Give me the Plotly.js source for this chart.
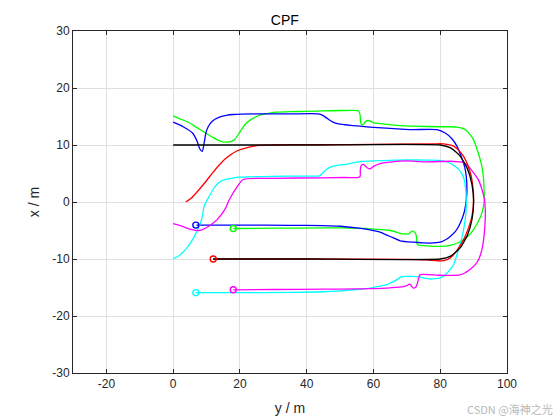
<!DOCTYPE html>
<html>
<head>
<meta charset="utf-8">
<script src="https://cdn.plot.ly/plotly-3.0.1.min.js"></script>
<style>html,body{margin:0;padding:0;background:#fff;}#chart{width:560px;height:420px;}</style>
</head>
<body>
<div id="chart"></div>
<script>
// ---- data ----
const xTickVals = [-20, 0, 20, 40, 60, 80, 100];
const xTickText = ['-20', '0', '20', '40', '60', '80', '100'];
const yTickVals = [-30, -20, -10, 0, 10, 20, 30];
const yTickText = ['-30', '-20', '-10', '0', '10', '20', '30'];

const greenX = [18, 30, 45, 50, 59, 65, 69, 70.6, 71.6, 72.6, 72.9, 73.1, 73.6, 76, 79, 83, 85.5, 87, 89, 90, 91.5, 92.5, 93.2, 93.1, 93, 92.6, 92, 91, 90, 88.7, 87.5, 85, 80, 72, 69.5, 62, 60, 58.5, 57.6, 57, 56.4, 56.1, 56, 55.5, 51.5, 45, 40, 35, 31, 29, 27, 25, 22, 19.8, 18.3, 16.3, 14.3, 12, 9.8, 7, 4.8, 2, 0];
const greenY = [-4.65, -4.6, -4.55, -4.55, -4.7, -5.0, -5.6, -5.55, -5.05, -5.5, -6.2, -7.4, -7.55, -7.7, -7.8, -7.6, -7.1, -6.6, -5.6, -4.8, -3.3, -1.9, 0.4, 2.5, 3.9, 5.8, 7.4, 9.3, 10.9, 12.0, 12.7, 13.15, 13.2, 13.3, 13.35, 13.75, 13.9, 14.3, 14.1, 13.65, 13.6, 14.15, 15.3, 16.0, 16.05, 16.0, 15.9, 15.85, 15.75, 15.6, 15.4, 15.0, 13.9, 12.1, 10.9, 10.5, 10.65, 11.3, 12.1, 13.1, 13.9, 14.6, 15.1];

const blueX = [7, 20, 35, 45, 50, 55, 59, 62, 64, 66, 68, 72, 77, 80, 82, 83, 84.5, 85.5, 86.5, 87.3, 87.8, 88, 87.8, 87.3, 86.3, 85, 83.5, 81.5, 79, 72, 69.5, 65, 60, 56, 51.5, 49.5, 47.9, 46.3, 44.8, 43.5, 35, 25, 18, 15.9, 13.5, 11.8, 10.5, 9.8, 9.3, 8.7, 8.0, 7.3, 5.8, 3, 0];
const blueY = [-4.05, -4.05, -4.1, -4.15, -4.25, -4.55, -4.9, -5.3, -5.8, -6.3, -6.8, -7.05, -7.2, -7.05, -6.5, -6.05, -5.2, -4.3, -3.0, -1.5, 0.4, 2.0, 4.5, 6.2, 8.0, 9.8, 11.1, 12.1, 12.7, 12.7, 12.75, 12.9, 13.1, 13.3, 13.55, 13.7, 14.0, 14.6, 15.2, 15.45, 15.45, 15.45, 15.35, 15.2, 14.8, 14.2, 13.2, 12.1, 10.4, 8.9, 9.3, 10.5, 12.1, 13.2, 14.0];

const cyanX = [6.8, 20, 35, 45, 50, 55, 59, 62, 64, 66.5, 68.5, 71, 73.1, 75, 76.6, 78.5, 80, 82, 83, 84, 85.5, 86.5, 87.2, 87.7, 87.8, 87.6, 87.2, 86.3, 85, 83, 80, 75, 69.5, 65, 60, 55.9, 51.5, 49.9, 47.5, 45.9, 44.8, 43.9, 40, 30, 20, 17.8, 14.8, 13.3, 12.3, 10.8, 9.3, 8.9, 8.4, 7.8, 6.8, 5.8, 4.3, 2.8, 1.3, 0];
const cyanY = [-15.9, -15.9, -15.85, -15.75, -15.6, -15.35, -15.1, -14.75, -14.5, -13.8, -13.1, -13.05, -13.1, -13.3, -13.5, -13.45, -13.3, -12.5, -11.8, -11.0, -8.3, -6.2, -4.2, -1.8, 0.4, 2.3, 3.9, 5.1, 6.0, 6.8, 7.3, 7.35, 7.4, 7.3, 7.2, 7.1, 6.6, 6.5, 6.2, 5.7, 5.1, 4.6, 4.55, 4.5, 4.35, 4.2, 3.8, 3.2, 2.5, 1.0, -0.7, -2.0, -3.3, -4.2, -5.5, -6.6, -7.9, -8.9, -9.6, -9.95];

const magentaX = [18, 30, 45, 55, 59, 65, 69, 70.2, 70.8, 71.5, 72, 72.7, 73.1, 73.6, 74, 80, 86, 87.5, 89, 90.5, 91.5, 92.5, 93, 93.4, 93.5, 93.2, 92.5, 91.5, 90, 88.5, 87, 85, 83, 75, 69.5, 62, 60, 59, 58, 57, 56.3, 56.05, 56, 55.5, 51.5, 45, 30, 21, 19.3, 16.8, 15.5, 13.3, 10.8, 7.8, 5.3, 1.9, 0];
const magentaY = [-15.4, -15.35, -15.3, -15.25, -15.2, -15.05, -14.85, -14.6, -14.4, -14.8, -15.1, -14.9, -14.4, -13.2, -12.75, -12.85, -12.8, -12.4, -11.8, -11.0, -10.1, -8.3, -6.6, -4.0, -1.3, 0.6, 2.2, 3.8, 5.1, 6.2, 6.9, 7.1, 7.15, 7.05, 7.2, 6.75, 6.25, 5.8, 6.05, 6.6, 6.4, 5.5, 4.5, 4.3, 4.3, 4.25, 4.15, 3.95, 2.8, 0.4, -1.3, -3.0, -4.2, -5.0, -4.8, -4.1, -3.8];

const redX = [12, 40, 70, 76, 79, 81, 83, 85, 87, 88.5, 89.5, 90, 89.8, 89.3, 88.3, 87, 85.5, 84, 81, 78, 60, 45, 35, 30, 25.9, 21.9, 18.9, 15.9, 13.8, 11.8, 9.8, 7.8, 5.3, 3.8];
const redY = [-10, -10, -10.05, -10.15, -10.3, -10.3, -9.8, -8.5, -6.6, -4.5, -2.5, 0.4, 2.5, 4.5, 6.4, 8.0, 9.1, 9.8, 10.2, 10.2, 10.1, 10.05, 10.05, 10.0, 9.95, 9.5, 8.9, 7.7, 6.5, 5.1, 3.6, 2.2, 0.6, 0];

const blackX = [12, 40, 80, 83.1, 85.9, 88.1, 89.5, 90, 89.5, 88.1, 85.9, 83.1, 80, 40, 0];
const blackY = [-10, -10, -10, -9.5, -8.1, -5.9, -3.1, 0, 3.1, 5.9, 8.1, 9.5, 10, 10, 10];

const startNames = ['blue', 'green', 'red', 'cyan', 'magenta'];
const startX = [6.8, 18, 12, 6.8, 18];
const startY = [-4.05, -4.65, -10, -15.9, -15.4];
const startColors = ['#0000ff', '#00ff00', '#ff0000', '#00ffff', '#ff00ff'];

// ---- traces ----
function path(x, y, color) {
  return {x: x, y: y, type: 'scatter', mode: 'lines',
          line: {color: color, width: 1.3, shape: 'spline', smoothing: 0.7},
          hoverinfo: 'skip', showlegend: false};
}
const traces = [
  path(greenX, greenY, '#00ff00'),
  path(blueX, blueY, '#0000ff'),
  path(cyanX, cyanY, '#00ffff'),
  path(magentaX, magentaY, '#ff00ff'),
  path(redX, redY, '#ff0000'),
  {x: blackX, y: blackY, type: 'scatter', mode: 'lines',
   line: {color: '#000000', width: 1.3, shape: 'spline', smoothing: 0.5},
   hoverinfo: 'skip', showlegend: false}
];
for (let i = 0; i < startNames.length; i++) {
  traces.push({x: [startX[i]], y: [startY[i]], type: 'scatter', mode: 'markers',
    marker: {symbol: 'circle-open', size: 6, color: startColors[i], line: {width: 1.4, color: startColors[i]}},
    hoverinfo: 'skip', showlegend: false, name: startNames[i]});
}

const axisCommon = {
  showgrid: true, gridcolor: '#e0e0e0', gridwidth: 1,
  zeroline: false, showline: true, linecolor: '#262626', linewidth: 1,
  mirror: 'ticks', ticks: 'inside', ticklen: 4, tickcolor: '#262626',
  tickfont: {family: 'Liberation Sans, Arial, sans-serif', size: 12, color: '#262626'},
  fixedrange: true
};

const layout = {
  width: 560, height: 420,
  paper_bgcolor: '#ffffff', plot_bgcolor: '#ffffff',
  margin: {l: 73, r: 53, t: 31, b: 47, pad: 0},
  title: {text: 'CPF', font: {family: 'Liberation Sans, Arial, sans-serif', size: 14, color: '#000000'},
          x: 0.488, xref: 'paper', xanchor: 'center', y: 0.951, yref: 'container', yanchor: 'middle'},
  xaxis: Object.assign({}, axisCommon, {
    range: [-30, 100], tickmode: 'array', tickvals: xTickVals, ticktext: xTickText,
    title: {text: 'y / m', font: {family: 'Liberation Sans, Arial, sans-serif', size: 14, color: '#262626'}, standoff: 12}
  }),
  yaxis: Object.assign({}, axisCommon, {
    range: [-30, 30], tickmode: 'array', tickvals: yTickVals, ticktext: yTickText,
    title: {text: 'x / m', font: {family: 'Liberation Sans, Arial, sans-serif', size: 14, color: '#262626'}, standoff: 9}
  }),
  annotations: [{
    text: 'CSDN @海神之光', xref: 'paper', yref: 'paper', x: 1.111, y: -0.105,
    xanchor: 'right', yanchor: 'middle', showarrow: false,
    font: {family: 'Noto Sans CJK SC, sans-serif', size: 11, color: '#b8b8b8'}
  }]
};

Plotly.newPlot('chart', traces, layout, {staticPlot: true, displayModeBar: false});
</script>
</body>
</html>
